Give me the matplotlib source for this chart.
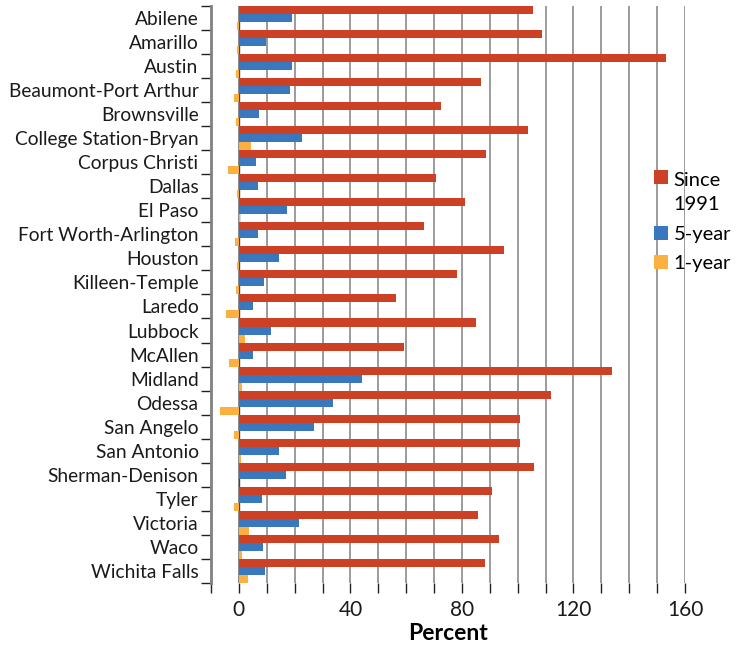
import matplotlib.pyplot as plt
from matplotlib.patches import Rectangle
import numpy as np

plt.rcParams['font.family'] = ['Lato', 'DejaVu Sans']

# metro areas, top to bottom
cities = ["Abilene", "Amarillo", "Austin", "Beaumont-Port Arthur", "Brownsville",
          "College Station-Bryan", "Corpus Christi", "Dallas", "El Paso",
          "Fort Worth-Arlington", "Houston", "Killeen-Temple", "Laredo", "Lubbock",
          "McAllen", "Midland", "Odessa", "San Angelo", "San Antonio",
          "Sherman-Denison", "Tyler", "Victoria", "Waco", "Wichita Falls"]

# percent change
since_1991 = [105.4, 108.6, 153.1, 86.7, 72.4, 103.6, 88.5, 70.6, 81.1, 66.4, 95.1, 78.2,
              56.3, 85.0, 59.2, 133.8, 111.9, 100.8, 100.8, 105.8, 90.8, 85.7, 93.3, 88.3]
five_year = [18.9, 9.6, 18.9, 18.5, 7.1, 22.8, 6.3, 6.7, 17.2, 6.8, 14.3, 9.0,
             5.0, 11.5, 5.0, 44.1, 33.7, 26.9, 14.3, 16.9, 8.2, 21.5, 8.6, 9.3]
one_year = [-0.7, -0.7, -1.1, -1.8, -1.1, 4.2, -3.9, -0.7, 0.3, -1.4, -0.7, -1.1,
            -4.7, 2.2, -3.6, 1.1, -6.8, -1.8, 0.7, 0.0, -1.8, 3.6, 1.1, 3.2]

red = '#cc4125'
blue = '#3a78be'
orange = '#fbb040'

fig = plt.figure(figsize=(7.36, 6.45), dpi=100)
ax = fig.add_axes([0.2867, 0.096, 0.644, 0.895])

y = np.arange(len(cities))
h = 1 / 3
ax.barh(y - h, since_1991, height=h, color=red, label='Since\n1991', zorder=3)
ax.barh(y, five_year, height=h, color=blue, label='5-year', zorder=3)
ax.barh(y + h, one_year, height=h, color=orange, label='1-year', zorder=3)

ax.axvline(0, color='#444444', lw=1.0, zorder=2)

ax.set_xlim(-10, 160)
ax.set_ylim(len(cities) - 0.5, -0.5)

ax.set_xticks([0, 40, 80, 120, 160])
ax.set_xticks(np.arange(-10, 161, 10), minor=True)
ax.grid(axis='x', which='both', color='#808080', lw=1.1, zorder=0)
ax.tick_params(axis='x', which='both', length=7, width=1, color='#222222',
               labelsize=15, pad=5, labelcolor='#1a1a1a')

ax.set_yticks(y)
ax.set_yticklabels(cities)
ax.set_yticks(np.arange(-0.5, len(cities), 1), minor=True)
ax.tick_params(axis='y', which='major', length=0, pad=9, labelsize=13.8,
               labelcolor='#1a1a1a')
ax.tick_params(axis='y', which='minor', length=7, width=1, color='#222222')

for s in ['top', 'right', 'bottom']:
    ax.spines[s].set_visible(False)
ax.spines['left'].set_color('#808080')
ax.spines['left'].set_linewidth(2)

ax.set_xlabel('Percent', fontsize=16.5, fontweight='bold', labelpad=2)

# faded backdrop behind the legend column
ax.add_patch(Rectangle((145, 0), 30, 0.75, transform=ax.get_xaxis_transform(),
                       facecolor='white', alpha=0.55, edgecolor='none',
                       zorder=1, clip_on=False))

leg = ax.legend(loc='upper left', bbox_to_anchor=(0.917, 0.726), frameon=False,
                fontsize=14.5, handlelength=0.7, handleheight=0.7, handletextpad=0.3,
                labelspacing=0.62, borderaxespad=0)
leg.get_texts()[0].set_linespacing(1.5)
# keep the first swatch level with the first line of its label
leg.legend_handles[0].set_y(leg.legend_handles[0].get_y() + 11)

fig.savefig('out.png', dpi=100)
